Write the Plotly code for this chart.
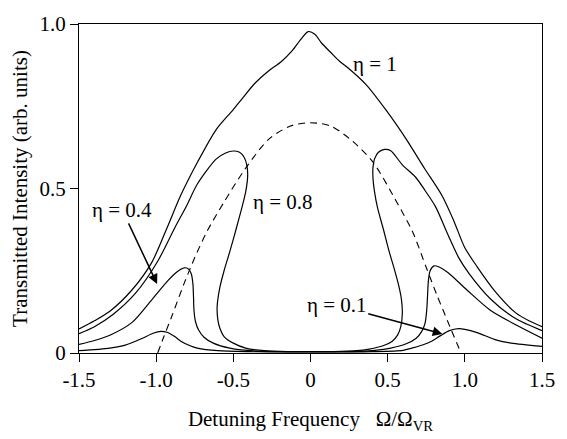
import plotly.graph_objects as go

# ---- data ----
x_eta1 = [-1.5, -1.4, -1.3, -1.16, -1.03, -0.93, -0.84, -0.73, -0.61, -0.5, -0.44, -0.36, -0.27, -0.19,
          -0.12, -0.06, -0.015, 0.03, 0.07, 0.13, 0.19, 0.24, 0.36, 0.49, 0.62, 0.74, 0.85, 0.93, 1.0,
          1.08, 1.2, 1.33, 1.42, 1.5]
y_eta1 = [0.073, 0.098, 0.127, 0.19, 0.274, 0.38, 0.48, 0.582, 0.68, 0.74, 0.775, 0.82, 0.858, 0.885,
          0.918, 0.955, 0.977, 0.968, 0.943, 0.914, 0.886, 0.868, 0.816, 0.738, 0.65, 0.56, 0.48, 0.40, 0.32,
          0.262, 0.185, 0.122, 0.097, 0.08]

x_eta08 = [-1.5, -1.4, -1.28, -1.135, -0.99, -0.88, -0.80, -0.734, -0.61, -0.55, -0.50, -0.46, -0.43,
           -0.413, -0.407, -0.41, -0.42, -0.44, -0.48, -0.523, -0.56, -0.587, -0.605, -0.60, -0.587, -0.56,
           -0.50, -0.42, -0.3, -0.15, 0.0, 0.15, 0.3, 0.38, 0.47, 0.53, 0.565, 0.585, 0.595, 0.59, 0.574,
           0.54, 0.51, 0.47, 0.435, 0.415, 0.405, 0.405, 0.415, 0.44, 0.48, 0.52, 0.595, 0.68, 0.742, 0.81,
           0.89, 0.96, 1.03, 1.165, 1.31, 1.4, 1.5]
y_eta08 = [0.059, 0.08, 0.117, 0.181, 0.279, 0.38, 0.45, 0.513, 0.59, 0.608, 0.614, 0.61, 0.595,
           0.572, 0.545, 0.52, 0.49, 0.45, 0.38, 0.308, 0.25, 0.2, 0.14, 0.10, 0.075, 0.05,
           0.03, 0.015, 0.007, 0.004, 0.004, 0.004, 0.007, 0.012, 0.022, 0.036, 0.055, 0.08, 0.12, 0.16, 0.2,
           0.26, 0.308, 0.38, 0.44, 0.49, 0.53, 0.565, 0.59, 0.61, 0.619, 0.615, 0.572, 0.535, 0.494, 0.445,
           0.36, 0.29, 0.24, 0.165, 0.11, 0.088, 0.068]

x_eta04 = [-1.5, -1.4, -1.3, -1.156, -1.03, -0.924, -0.87, -0.818, -0.79, -0.772, -0.762, -0.758, -0.755,
           -0.745, -0.725, -0.69, -0.63, -0.523, -0.35, 0.0, 0.35, 0.52, 0.62, 0.685, 0.72, 0.742, 0.753,
           0.758, 0.764, 0.775, 0.8, 0.83, 0.89, 1.017, 1.165, 1.333, 1.5]
y_eta04 = [0.026, 0.038, 0.054, 0.093, 0.161, 0.22, 0.245, 0.259, 0.255, 0.24, 0.21, 0.17, 0.13,
           0.095, 0.07, 0.048, 0.03, 0.015, 0.006, 0.004, 0.006, 0.015, 0.028, 0.045, 0.065, 0.09, 0.13,
           0.17, 0.22, 0.25, 0.265, 0.262, 0.245, 0.19, 0.13, 0.085, 0.045]

x_eta01 = [-1.5, -1.3, -1.2, -1.093, -1.02, -0.97, -0.93, -0.88, -0.84, -0.78, -0.734, -0.6, -0.4, 0.0,
           0.4, 0.6, 0.658, 0.73, 0.785, 0.84, 0.90, 0.96, 1.0, 1.08, 1.207, 1.3, 1.5]
y_eta01 = [0.007, 0.015, 0.024, 0.044, 0.06, 0.066, 0.063, 0.05, 0.036, 0.022, 0.015, 0.007, 0.004, 0.003,
           0.004, 0.008, 0.015, 0.025, 0.036, 0.052, 0.068, 0.074, 0.072, 0.062, 0.039, 0.03, 0.02]

x_dash = [-0.99, -0.95, -0.9, -0.82, -0.75, -0.67, -0.565, -0.42, -0.27, -0.13, 0.0, 0.13, 0.27, 0.405,
          0.563, 0.66, 0.75, 0.82, 0.89, 0.975]
y_dash = [0.0, 0.05, 0.11, 0.21, 0.29, 0.37, 0.455, 0.562, 0.65, 0.69, 0.70, 0.69, 0.645, 0.58,
          0.455, 0.37, 0.26, 0.175, 0.095, 0.0]

x_tickvals = [-1.5, -1.0, -0.5, 0, 0.5, 1.0, 1.5]
x_ticktext = ["-1.5", "-1.0", "-0.5", "0", "0.5", "1.0", "1.5"]
y_tickvals = [0, 0.5, 1.0]
y_ticktext = ["0", "0.5", "1.0"]

FONT = '"Liberation Serif", "Times New Roman", Times, serif'

fig = go.Figure()
for xs, ys in [(x_eta1, y_eta1), (x_eta08, y_eta08), (x_eta04, y_eta04), (x_eta01, y_eta01)]:
    fig.add_trace(go.Scatter(x=xs, y=ys, mode="lines",
                             line=dict(color="black", width=1.2, shape="spline", smoothing=0.8),
                             showlegend=False, hoverinfo="skip"))
fig.add_trace(go.Scatter(x=x_dash, y=y_dash, mode="lines",
                         line=dict(color="black", width=1.1, dash="7px,5px", shape="spline", smoothing=0.8),
                         showlegend=False, hoverinfo="skip"))

tfont = dict(family=FONT, size=21, color="black")
# plain labels
fig.add_annotation(x=0.42, y=0.878, text="η = 1", showarrow=False, xref="x", yref="y", font=tfont)
fig.add_annotation(x=-0.18, y=0.46, text="η = 0.8", showarrow=False, xref="x", yref="y", font=tfont)
# labels with arrows (text centred at ax, ay; arrow head at x, y)
fig.add_annotation(x=-0.994, y=0.21, ax=-1.22, ay=0.435, xref="x", yref="y", axref="x", ayref="y",
                   text="η = 0.4", font=tfont, showarrow=True, arrowhead=2, arrowsize=1.3,
                   arrowwidth=1.5, arrowcolor="black", standoff=0)
fig.add_annotation(x=0.855, y=0.058, ax=0.17, ay=0.145, xref="x", yref="y", axref="x", ayref="y",
                   text="η = 0.1", font=tfont, showarrow=True, arrowhead=2, arrowsize=1.3,
                   arrowwidth=1.5, arrowcolor="black", standoff=0)

axis_common = dict(showgrid=False, zeroline=False, showline=True, linecolor="black", linewidth=1,
                   mirror=True, ticks="outside", ticklen=8, tickwidth=1, tickcolor="black",
                   tickfont=dict(family=FONT, size=21, color="black"))

fig.update_xaxes(range=[-1.5, 1.5], tickvals=x_tickvals, ticktext=x_ticktext,
                 title=dict(text="Detuning Frequency\u00a0\u00a0\u00a0Ω/Ω<sub>VR</sub>",
                            font=dict(family=FONT, size=21, color="black"), standoff=20),
                 **axis_common)
fig.update_yaxes(range=[0, 1.0], tickvals=y_tickvals, ticktext=y_ticktext,
                 title=dict(text="Transmitted Intensity (arb. units)",
                            font=dict(family=FONT, size=21, color="black"), standoff=6),
                 **axis_common)

fig.update_layout(width=567, height=439, margin=dict(l=79, r=14, t=14, b=84),
                  paper_bgcolor="white", plot_bgcolor="white", showlegend=False)

fig.write_html("out.html")
